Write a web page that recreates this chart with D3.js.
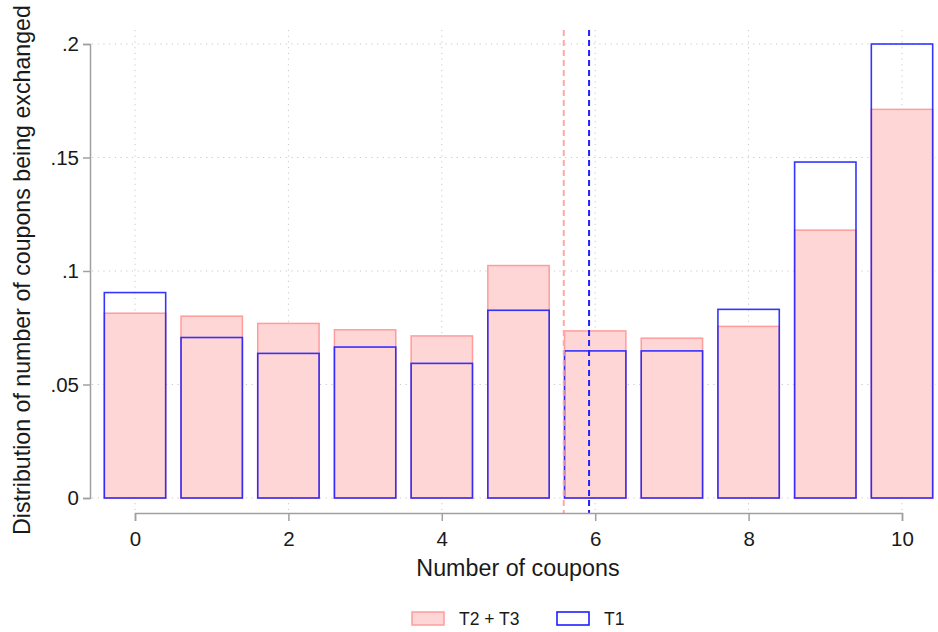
<!DOCTYPE html>
<html>
<head>
<meta charset="utf-8">
<script src="https://cdn.jsdelivr.net/npm/d3@7"></script>
<style>
  html, body { margin: 0; padding: 0; background: #fff; }
  svg { display: block; font-family: "Liberation Sans", Arial, sans-serif; }
</style>
</head>
<body>
<svg id="chart" width="938" height="632"></svg>
<script>
// Number of coupons exchanged (0..10)
const coupons = [0, 1, 2, 3, 4, 5, 6, 7, 8, 9, 10];
// Share of subjects per coupon count
const shareT23 = [0.0814, 0.0801, 0.0769, 0.0741, 0.0714, 0.1024, 0.0736, 0.0704, 0.0756, 0.118, 0.1712];
const shareT1  = [0.0905, 0.0707, 0.0637, 0.0665, 0.0593, 0.0827, 0.0648, 0.0648, 0.0831, 0.148, 0.2];
// Group means (dashed reference lines)
const meanT23 = 5.59;
const meanT1 = 5.92;
// Axis ticks
const xTicks = [0, 2, 4, 6, 8, 10];
const yTicks = [0, 0.05, 0.1, 0.15, 0.2];
const yTickLabels = ["0", ".05", ".1", ".15", ".2"];
const seriesNames = ["T2 + T3", "T1"];

const svg = d3.select("#chart");
const pinkFill = "#ffd6d6", pinkStroke = "#ff9c9c", blue = "#1f1fff", axisGray = "#a0a0a0";
const textColor = "#1a1a1a";

const x = d3.scaleLinear().domain([0, 10]).range([135, 902]);
const y = d3.scaleLinear().domain([0, 0.2]).range([498, 44]);
const barW = x(0.8) - x(0);
const plotLeft = 92, plotRight = 936, plotTop = 30, plotBottom = 510;

// Grid lines
const grid = svg.append("g").attr("stroke", "#c8c8c8").attr("stroke-width", 1)
  .attr("stroke-dasharray", "1.2,4.5");
grid.selectAll("line.h").data(yTicks).join("line")
  .attr("x1", plotLeft).attr("x2", plotRight)
  .attr("y1", d => y(d)).attr("y2", d => y(d));
grid.selectAll("line.v").data(xTicks).join("line")
  .attr("y1", plotTop).attr("y2", plotBottom)
  .attr("x1", d => x(d)).attr("x2", d => x(d));

// T2 + T3 bars (filled)
svg.append("g").selectAll("rect").data(coupons).join("rect")
  .attr("x", d => x(d) - barW / 2)
  .attr("y", (d, i) => y(shareT23[i]))
  .attr("width", barW)
  .attr("height", (d, i) => y(0) - y(shareT23[i]))
  .attr("fill", pinkFill)
  .attr("stroke", pinkStroke)
  .attr("stroke-width", 1.5);

// T1 bars (outline only)
svg.append("g").selectAll("rect").data(coupons).join("rect")
  .attr("x", d => x(d) - barW / 2)
  .attr("y", (d, i) => y(shareT1[i]))
  .attr("width", barW)
  .attr("height", (d, i) => y(0) - y(shareT1[i]))
  .attr("fill", "none")
  .attr("stroke", blue)
  .attr("stroke-opacity", 0.9)
  .attr("stroke-width", 1.6);

// Mean lines
svg.append("line")
  .attr("x1", x(meanT23)).attr("x2", x(meanT23))
  .attr("y1", plotTop).attr("y2", 513)
  .attr("stroke", "#ffa8a8").attr("stroke-width", 2).attr("stroke-dasharray", "6,4");
svg.append("line")
  .attr("x1", x(meanT1)).attr("x2", x(meanT1))
  .attr("y1", plotTop).attr("y2", 513)
  .attr("stroke", blue).attr("stroke-width", 2).attr("stroke-dasharray", "6,4");

// Y axis
const yAxis = d3.axisLeft(y).tickValues(yTicks)
  .tickFormat((d, i) => yTickLabels[i]).tickSize(7).tickPadding(4);
const gy = svg.append("g").attr("transform", "translate(90,0)").call(yAxis);
gy.attr("font-size", null).attr("font-family", null);
gy.select(".domain").attr("stroke", axisGray).attr("stroke-width", 1.5);
gy.selectAll(".tick line").attr("stroke", axisGray).attr("stroke-width", 1.5);
gy.selectAll(".tick text").style("font-size", "20.5px").attr("fill", textColor);

// X axis
const xAxis = d3.axisBottom(x).tickValues(xTicks).tickSize(8).tickPadding(10);
const gx = svg.append("g").attr("transform", "translate(0,513)").call(xAxis);
gx.attr("font-size", null).attr("font-family", null);
gx.select(".domain").attr("stroke", axisGray).attr("stroke-width", 1.5);
gx.selectAll(".tick line").attr("stroke", axisGray).attr("stroke-width", 1.5);
gx.selectAll(".tick text").style("font-size", "20.5px").attr("fill", textColor);

// Axis titles
svg.append("text")
  .attr("x", 518).attr("y", 576)
  .attr("text-anchor", "middle").style("font-size", "23.3px").attr("fill", textColor)
  .text("Number of coupons");
svg.append("text")
  .attr("transform", "translate(30,270) rotate(-90)")
  .attr("text-anchor", "middle").style("font-size", "23.2px").attr("fill", textColor)
  .text("Distribution of number of coupons being exchanged");

// Legend
const legend = svg.append("g");
legend.append("rect").attr("x", 412).attr("y", 612).attr("width", 32).attr("height", 13)
  .attr("fill", pinkFill).attr("stroke", pinkStroke).attr("stroke-width", 1.5);
legend.append("text").attr("x", 459).attr("y", 625).style("font-size", "17.5px").attr("fill", textColor)
  .text(seriesNames[0]);
legend.append("rect").attr("x", 557).attr("y", 612).attr("width", 32).attr("height", 13)
  .attr("fill", "none").attr("stroke", blue).attr("stroke-width", 1.6);
legend.append("text").attr("x", 604).attr("y", 625).style("font-size", "17.5px").attr("fill", textColor)
  .text(seriesNames[1]);
</script>
</body>
</html>
